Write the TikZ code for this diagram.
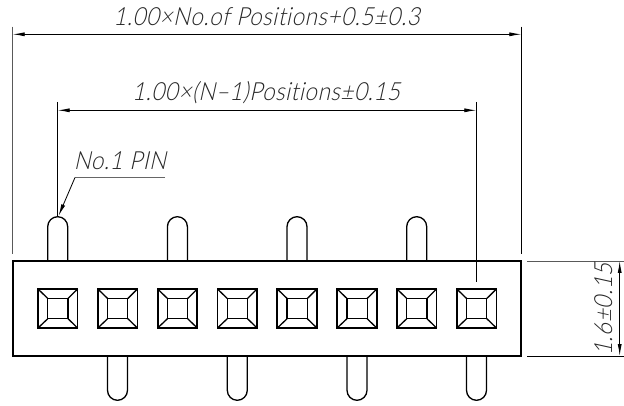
\documentclass[tikz,border=0pt]{standalone}
\usepackage{fontspec}
\newfontfamily\dimfont[FakeSlant=0.22,FakeStretch=0.9,LetterSpace=2,Ligatures=NoCommon]{Lato Light}
\usetikzlibrary{arrows.meta}
\tikzset{
  x=1pt,y=-1pt,
  outline/.style={line width=1.7pt,black,line join=miter},
  thinpart/.style={line width=1.3pt,black},
  dimline/.style={line width=0.8pt,black},
  extline/.style={line width=0.8pt,black!65},
  dimarrow/.style={dimline,{Latex[length=12pt,width=4pt]}-{Latex[length=12pt,width=4pt]}},
  dimtext/.style={inner sep=0pt,font=\dimfont\fontsize{25}{25}\selectfont,text=black!85}
}
\begin{document}
\begin{tikzpicture}
\useasboundingbox (0,0) rectangle (624,406);
\fill[white] (0,0) rectangle (624,406);
% pins top
\foreach \c in {57.7,177.4,297,416.7}{
  \draw[thinpart] (\c-10,261) -- (\c-10,226.7) arc[start angle=180,end angle=0,radius=10pt] -- (\c+10,261);
}
% pins bottom
\foreach \c in {117.5,237.3,357,476.5}{
  \draw[thinpart] (\c-10,356) -- (\c-10,390.3) arc[start angle=180,end angle=360,radius=10pt] -- (\c+10,356);
}
% body
\node[draw,outline,minimum width=508.6pt,minimum height=95pt,inner sep=0pt,anchor=north west,outer sep=0pt] (body) at (12.7,261) {};
% cavities
\foreach \i in {0,...,7}{
  \pgfmathsetmacro{\xx}{38+59.83*\i}
  \begin{scope}[shift={(\xx,289)}]
    \draw[outline] (0,0) rectangle (39.6,39);
    \draw[thinpart] (9.8,9.5) rectangle (30,29.7);
    \draw[thinpart] (0,0) -- (9.8,9.5) (39.6,0) -- (30,9.5) (0,39) -- (9.8,29.7) (39.6,39) -- (30,29.7);
  \end{scope}
}
% extension lines
\coordinate (oL) at (12.7,26.7);
\coordinate (oLb) at (12.7,254);
\coordinate (oR) at (521.3,26.7);
\coordinate (oRb) at (521.3,254);
\coordinate (iL) at (57.7,102);
\coordinate (iLb) at (57.7,216.7);
\coordinate (iR) at (476.3,102);
\coordinate (iRb) at (476.3,282);
\coordinate (hT) at (527,261);
\coordinate (hTe) at (624,261);
\coordinate (hB) at (527,356);
\coordinate (hBe) at (624,356);
\draw[extline] (oL) -- (oLb);
\draw[dimline] (oR) -- (oRb);
\draw[dimline] (iL) -- (iLb);
\draw[dimline] (iR) -- (iRb);
\draw[extline] (hT) -- (hTe);
\draw[dimline] (hB) -- (hBe);
% dimension lines
\coordinate (d1a) at (12.7,34.3);
\coordinate (d1b) at (521.3,34.3);
\coordinate (d2a) at (57.7,110.3);
\coordinate (d2b) at (476.3,110.3);
\coordinate (d3a) at (619.7,261);
\coordinate (d3b) at (619.7,356);
\draw[dimarrow] (d1a) -- (d1b);
\draw[dimarrow] (d2a) -- (d2b);
\draw[dimarrow] (d3a) -- (d3b);
% leader
\coordinate (ldA) at (165,177.5);
\coordinate (ldB) at (75,177.5);
\coordinate (ldC) at (58.5,216);
\draw[line width=1.2pt,black!60] (ldA) -- (ldB);
\draw[dimline,-{Latex[length=12pt,width=4pt]}] (ldB) -- (ldC);
% texts
\node[dimtext,anchor=base] (t1) at (266.5,26) {1.00×No.of Positions+0.5±0.3};
\node[dimtext,anchor=base] (t2) at (266,101) {1.00×(N–1)Positions±0.15};
\node[dimtext,anchor=base] (t3) at (120,170) {No.1 PIN};
\node[dimtext,anchor=base,rotate=90] (t4) at (612,309.5) {1.6±0.15};
\end{tikzpicture}
\end{document}
